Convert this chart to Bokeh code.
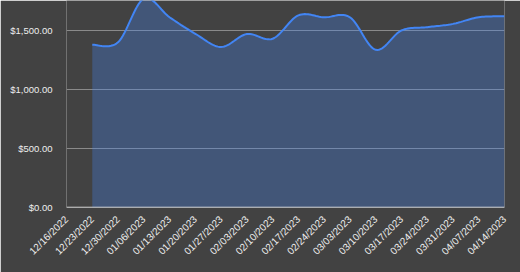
import math
from bokeh.plotting import figure
from bokeh.models import FixedTicker, NumeralTickFormatter, Span, ColumnDataSource, Range1d
from bokeh.embed import file_html
from bokeh.resources import INLINE

# ---- data ----
dates = ["12/16/2022", "12/23/2022", "12/30/2022", "01/06/2023", "01/13/2023",
         "01/20/2023", "01/27/2023", "02/03/2023", "02/10/2023", "02/17/2023",
         "02/24/2023", "03/03/2023", "03/10/2023", "03/17/2023", "03/24/2023",
         "03/31/2023", "04/07/2023", "04/14/2023"]
value_dates = dates[1:]
values = [1380, 1400, 1770, 1612, 1472, 1360, 1470, 1430, 1628, 1612,
          1612, 1336, 1500, 1528, 1556, 1612, 1620]
y_ticks = [0, 500, 1000, 1500]

BG = "#424242"
BLUE = "#4285F4"

xi = [dates.index(d) for d in value_dates]


def smooth(xs, ys, n=16):
    """Catmull-Rom rendering of the smoothed line through the data points."""
    px, py = [], []
    m = len(xs)
    for i in range(m - 1):
        x0, y0 = (xs[i - 1], ys[i - 1]) if i > 0 else (xs[i], ys[i])
        x1, y1 = xs[i], ys[i]
        x2, y2 = xs[i + 1], ys[i + 1]
        x3, y3 = (xs[i + 2], ys[i + 2]) if i + 2 < m else (xs[i + 1], ys[i + 1])
        for k in range(n):
            t = k / n
            t2, t3 = t * t, t * t * t
            px.append(0.5 * ((2 * x1) + (-x0 + x2) * t + (2 * x0 - 5 * x1 + 4 * x2 - x3) * t2 + (-x0 + 3 * x1 - 3 * x2 + x3) * t3))
            py.append(0.5 * ((2 * y1) + (-y0 + y2) * t + (2 * y0 - 5 * y1 + 4 * y2 - y3) * t2 + (-y0 + 3 * y1 - 3 * y2 + y3) * t3))
    px.append(xs[-1])
    py.append(ys[-1])
    return px, py


sx, sy = smooth(xi, values)
src = ColumnDataSource(dict(x=sx, y=sy, y0=[0] * len(sx)))

p = figure(width=520, height=272, output_backend="svg", toolbar_location=None,
           x_range=Range1d(0, len(dates) - 1), y_range=Range1d(0, 1754),
           min_border_left=66, min_border_right=16, min_border_top=0, min_border_bottom=65)
p.background_fill_color = BG
p.border_fill_color = BG
p.outline_line_color = None

p.varea(x="x", y1="y0", y2="y", source=src, fill_color=BLUE, fill_alpha=0.3)
p.line(x="x", y="y", source=src, line_color=BLUE, line_width=2)

p.add_layout(Span(location=0, dimension="width", line_color="#e8e8e8", line_width=1.5))

p.xgrid.visible = False
p.ygrid.ticker = FixedTicker(ticks=y_ticks[1:])
p.ygrid.grid_line_color = "#8a8a8a"
p.ygrid.grid_line_width = 1

p.yaxis.ticker = FixedTicker(ticks=y_ticks)
p.yaxis.formatter = NumeralTickFormatter(format="$0,0.00")
p.yaxis.axis_line_color = None
p.yaxis.major_tick_line_color = None
p.yaxis.minor_tick_line_color = None
p.yaxis.major_label_text_color = "#eeeeee"
p.yaxis.major_label_text_font = "Liberation Sans"
p.yaxis.major_label_text_font_size = "9.5px"
p.yaxis.major_label_standoff = 8

p.xaxis.ticker = FixedTicker(ticks=list(range(len(dates))))
p.xaxis.major_label_overrides = {i: d for i, d in enumerate(dates)}
p.xaxis.major_label_orientation = math.pi / 4
p.xaxis.axis_line_color = None
p.xaxis.major_tick_line_color = None
p.xaxis.minor_tick_line_color = None
p.xaxis.major_label_text_color = "#eeeeee"
p.xaxis.major_label_text_font = "Liberation Sans"
p.xaxis.major_label_text_font_size = "10px"
p.xaxis.major_label_standoff = 4

open("out.html", "w").write(file_html(p, INLINE))
